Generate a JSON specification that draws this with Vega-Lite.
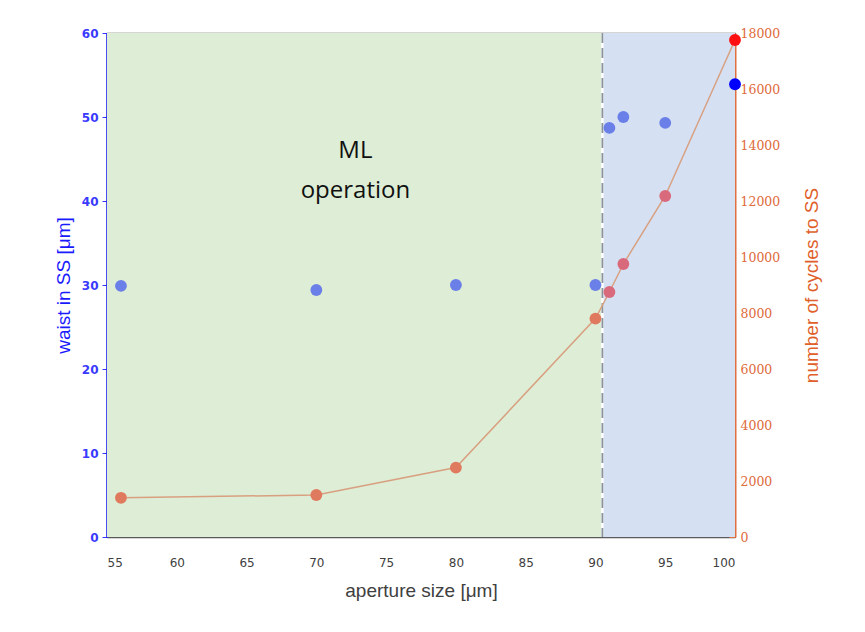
{
  "$schema": "https://vega.github.io/schema/vega-lite/v6.json",
  "width": 628,
  "height": 504,
  "autosize": {"type": "none"},
  "padding": {"left": 107, "top": 33, "right": 130, "bottom": 95},
  "background": "white",
  "config": {
    "view": {"stroke": "#5a5a5a", "strokeWidth": 1.2},
    "font": "Liberation Sans"
  },
  "datasets": {
    "regions": [
      {"x0": 55, "x1": 90.5, "region": "ML"},
      {"x0": 90.5, "x1": 100, "region": "other"}
    ],
    "meas": [
      {"aperture": 56, "waist": 29.9, "cycles": 1400},
      {"aperture": 70, "waist": 29.4, "cycles": 1500},
      {"aperture": 80, "waist": 30.0, "cycles": 2480},
      {"aperture": 90, "waist": 30.0, "cycles": 7800},
      {"aperture": 91, "waist": 48.7, "cycles": 8750},
      {"aperture": 92, "waist": 50.0, "cycles": 9750},
      {"aperture": 95, "waist": 49.3, "cycles": 12180},
      {"aperture": 100, "waist": 53.9, "cycles": 17750}
    ],
    "labels": [
      {"x": 72.8, "y": 45.9, "text": "ML"},
      {"x": 72.8, "y": 41.2, "text": "operation"}
    ],
    "split": [{"x": 90.5}]
  },
  "layer": [
    {
      "layer": [
        {
          "data": {"name": "regions"},
          "mark": {"type": "rect"},
          "encoding": {
            "x": {"field": "x0", "type": "quantitative", "scale": {"domain": [55, 100], "nice": false, "zero": false},
              "axis": {"title": "aperture size [μm]", "values": [55,60,65,70,75,80,85,90,95,100], "tickSize": -6, "tickColor": "#5a5a5a", "domain": true, "domainColor": "#5a5a5a", "domainWidth": 1.5, "grid": false, "labelFont": "DejaVu Sans", "labelFontSize": 12, "labelColor": "#404040", "labelPadding": 26, "titleFont": "Liberation Sans", "titleFontSize": 19, "titleFontWeight": "normal", "titleColor": "#404040", "titlePadding": 13}},
            "x2": {"field": "x1"},
            "y": {"datum": 0, "type": "quantitative", "scale": {"domain": [0, 60], "nice": false},
              "axis": {"title": "waist in SS [μm]", "values": [0,10,20,30,40,50,60], "tickSize": 5, "tickColor": "#3333ff", "domainColor": "#2020ff", "domainWidth": 2.5, "grid": false, "labelFont": "DejaVu Sans", "labelFontSize": 12, "labelFontWeight": "bold", "labelColor": "#3a3aff", "labelPadding": 4, "titleFont": "Liberation Sans", "titleFontSize": 19, "titleFontWeight": "normal", "titleColor": "#1a1aff", "titlePadding": 8}},
            "y2": {"datum": 60},
            "color": {"field": "region", "type": "nominal", "scale": {"domain": ["ML", "other"], "range": ["#deedd5", "#d5e0f2"]}, "legend": null}
          }
        },
        {
          "data": {"name": "split"},
          "mark": {"type": "rule", "color": "white", "strokeWidth": 2.5},
          "encoding": {"x": {"field": "x", "type": "quantitative"}}
        },
        {
          "data": {"name": "split"},
          "mark": {"type": "rule", "color": "#8a929c", "strokeWidth": 1.8, "strokeDash": [10, 5]},
          "encoding": {"x": {"field": "x", "type": "quantitative"}}
        },
        {
          "data": {"name": "meas"},
          "mark": {"type": "circle", "size": 140, "opacity": 1},
          "encoding": {
            "x": {"field": "aperture", "type": "quantitative"},
            "y": {"field": "waist", "type": "quantitative"},
            "color": {"condition": {"test": "datum.aperture >= 100", "value": "#0000ff"}, "value": "#6b7fe8"}
          }
        },
        {
          "data": {"name": "labels"},
          "mark": {"type": "text", "font": "Open Sans", "fontSize": 24, "color": "#111111"},
          "encoding": {
            "x": {"field": "x", "type": "quantitative"},
            "y": {"field": "y", "type": "quantitative"},
            "text": {"field": "text"}
          }
        }
      ]
    },
    {
      "data": {"name": "meas"},
      "layer": [
        {
          "mark": {"type": "line", "color": "#d8a080", "strokeWidth": 1.5},
          "encoding": {
            "x": {"field": "aperture", "type": "quantitative"},
            "y": {"field": "cycles", "type": "quantitative", "scale": {"domain": [0, 18000], "nice": false},
              "axis": {"orient": "right", "title": "number of cycles to SS", "titleAngle": 270, "titleBaseline": "bottom", "format": "d", "values": [0,2000,4000,6000,8000,10000,12000,14000,16000,18000], "tickSize": -6, "tickColor": "#e07040", "domainColor": "#e07040", "domainWidth": 2, "grid": false, "labelFont": "DejaVu Serif", "labelFontSize": 12.5, "labelColor": "#e06a3a", "labelPadding": 11, "titleFont": "Liberation Sans", "titleFontSize": 19, "titleFontWeight": "normal", "titleColor": "#e0602a", "titlePadding": 42}}
          }
        },
        {
          "mark": {"type": "circle", "size": 140, "opacity": 1},
          "encoding": {
            "x": {"field": "aperture", "type": "quantitative"},
            "y": {"field": "cycles", "type": "quantitative"},
            "color": {"condition": [
              {"test": "datum.aperture >= 100", "value": "#ff1010"},
              {"test": "datum.aperture > 90.5", "value": "#d96a7c"}
            ], "value": "#e07a5f"}
          }
        }
      ]
    }
  ],
  "resolve": {"scale": {"y": "independent"}}
}
